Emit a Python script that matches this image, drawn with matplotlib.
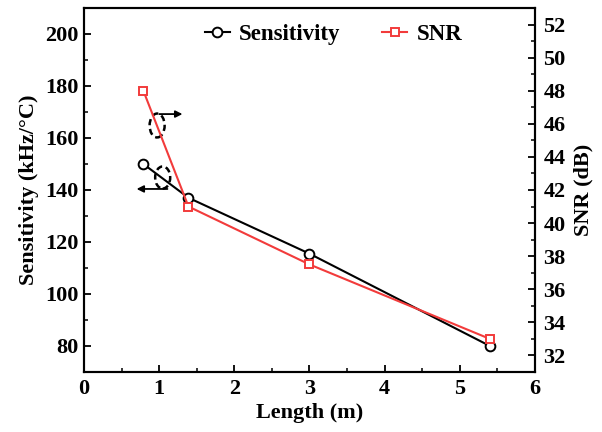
import matplotlib
matplotlib.use("Agg")
import matplotlib.pyplot as plt
from matplotlib.patches import Ellipse
from matplotlib.ticker import MultipleLocator

plt.rcParams['font.family'] = ['Liberation Serif', 'DejaVu Serif']
plt.rcParams['font.weight'] = 'bold'
plt.rcParams['mathtext.default'] = 'regular'

# Fiber length (m) and measured results
length = [0.79, 1.39, 3.0, 5.4]
sensitivity = [150, 137, 115.5, 80]      # kHz/°C
snr = [48, 41, 37.5, 33]                 # dB

x_ticks = [0, 1, 2, 3, 4, 5, 6]
sens_ticks = [80, 100, 120, 140, 160, 180, 200]
snr_ticks = [32, 34, 36, 38, 40, 42, 44, 46, 48, 50, 52]

red = '#f23b3b'

fig = plt.figure(figsize=(6.02, 4.32), dpi=100)
ax = fig.add_axes([0.1395, 0.1389, 0.7492, 0.8426])
ax2 = ax.twinx()

l1, = ax.plot(length, sensitivity, '-o', color='black', lw=1.5, ms=7,
              mfc='white', mec='black', mew=1.4, label='Sensitivity')
l2, = ax2.plot(length, snr, '-s', color=red, lw=1.5, ms=6,
               mfc='white', mec=red, mew=1.4, label='SNR')

ax.set_xlim(0, 6)
ax.set_ylim(70, 210)
ax2.set_ylim(31, 53)

ax.set_xticks(x_ticks)
ax.set_yticks(sens_ticks)
ax2.set_yticks(snr_ticks)
ax.xaxis.set_minor_locator(MultipleLocator(0.5))
ax.yaxis.set_minor_locator(MultipleLocator(10))
ax2.yaxis.set_minor_locator(MultipleLocator(1))

for a in (ax, ax2):
    a.tick_params(which='major', direction='in', length=5, width=1.3,
                  labelsize=16)
    a.tick_params(which='minor', direction='in', length=3, width=1.1)
    for s in a.spines.values():
        s.set_linewidth(1.5)
ax.tick_params(axis='both', which='both', top=False, right=False)
ax.tick_params(axis='x', pad=5)
ax.tick_params(axis='y', pad=4)
ax2.tick_params(axis='y', which='both', left=False, pad=6)

ax.set_xlabel('Length (m)', fontsize=16, fontweight='bold', labelpad=3)
ax.set_ylabel('Sensitivity (kHz/°C)', fontsize=16, fontweight='bold', labelpad=4)
ax2.set_ylabel('SNR (dB)', fontsize=16, fontweight='bold', labelpad=6)

# Markers showing which axis each curve belongs to
ax.add_patch(Ellipse((0.973, 164.8), 0.2, 9.2, fill=False, ls=(0, (2.5, 1.5)),
                     lw=1.8, color='black', zorder=5))
ax.annotate('', xy=(1.31, 169.2), xytext=(1.0, 169.2),
            arrowprops=dict(arrowstyle='-|>', color='black', lw=1.3,
                            mutation_scale=10, shrinkA=0, shrinkB=0))
ax.add_patch(Ellipse((1.047, 144.8), 0.2, 8.5, fill=False, ls=(0, (2.5, 1.5)),
                     lw=1.8, color='black', zorder=5))
ax.annotate('', xy=(0.70, 140.4), xytext=(1.11, 140.4),
            arrowprops=dict(arrowstyle='-|>', color='black', lw=1.3,
                            mutation_scale=10, shrinkA=0, shrinkB=0))

ax2.legend(handles=[l1, l2], loc='upper center', ncol=2, frameon=False,
           prop={'weight': 'bold', 'size': 16.5},
           bbox_to_anchor=(0.553, 1.012), columnspacing=1.8, handlelength=1.1,
           handletextpad=0.4)

fig.savefig('out.png', dpi=100)
